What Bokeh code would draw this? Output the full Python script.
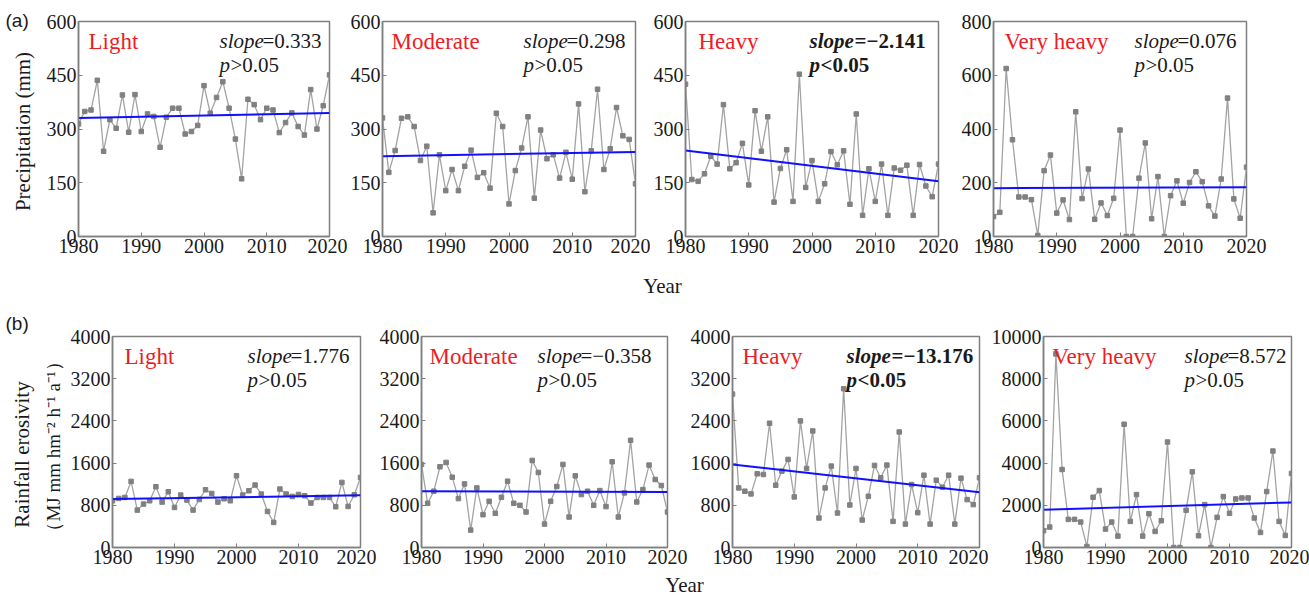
import math
from bokeh.plotting import figure
from bokeh.models import Range1d, Label, FixedTicker
from bokeh.layouts import column, row
from bokeh.embed import file_html
from bokeh.resources import INLINE

years = list(range(1980, 2021))
categories = ["Light", "Moderate", "Heavy", "Very heavy"]

# (a) Precipitation (mm)
precip_light = [314, 349, 353, 436, 238, 326, 302, 395, 291, 396, 293, 342, 335, 249, 333, 358, 358, 286, 293, 310,
                421, 344, 388, 432, 358, 272, 161, 383, 368, 326, 358, 353, 290, 318, 345, 307, 283, 410, 300, 365, 451]
precip_moderate = [331, 179, 240, 330, 334, 307, 212, 252, 66, 228, 128, 187, 128, 196, 241, 165, 178, 135, 344, 307,
                   91, 184, 247, 334, 107, 297, 217, 228, 163, 235, 160, 370, 125, 239, 411, 187, 245, 360, 281, 271, 147]
precip_heavy = [425, 159, 154, 175, 224, 202, 368, 189, 206, 260, 144, 351, 238, 334, 96, 190, 242, 98, 453, 137,
                212, 98, 147, 237, 200, 239, 90, 342, 59, 189, 98, 202, 59, 191, 185, 199, 59, 201, 141, 111, 202]
precip_veryheavy = [74, 90, 625, 360, 147, 147, 137, 4, 245, 303, 87, 136, 63, 464, 141, 251, 64, 125, 78, 142,
                    396, 0, 0, 217, 348, 66, 223, 0, 152, 207, 124, 201, 241, 204, 114, 76, 214, 515, 140, 68, 258]

# (b) Rainfall erosivity (MJ mm hm-2 h-1 a-1)
eros_light = [886, 930, 949, 1253, 709, 823, 886, 1152, 861, 1057, 759, 994, 899, 709, 911, 1095, 1025, 861, 924, 886,
              1361, 994, 1076, 1184, 1013, 684, 475, 1108, 1013, 968, 1006, 981, 842, 949, 949, 949, 772, 1234, 778, 1000, 1329]
eros_moderate = [1575, 838, 1067, 1530, 1613, 1333, 927, 1206, 330, 1130, 622, 876, 648, 952, 1257, 838, 800, 673, 1651, 1422,
                 444, 876, 1156, 1575, 578, 1359, 1003, 1067, 800, 1079, 775, 1625, 578, 1035, 2032, 863, 1098, 1562, 1289, 1175, 673]
eros_heavy = [2908, 1130, 1067, 1016, 1397, 1384, 2356, 1181, 1448, 1670, 959, 2400, 1498, 2210, 559, 1130, 1543, 654, 3010, 806,
              1498, 521, 971, 1556, 1321, 1562, 495, 2190, 444, 1194, 660, 1371, 444, 1276, 1143, 1371, 444, 1314, 908, 813, 1321]
eros_veryheavy = [794, 968, 9175, 3698, 1333, 1333, 1206, 48, 2381, 2698, 873, 1206, 540, 5841, 1238, 2508, 540, 1603, 762, 1270,
                  5000, 0, 0, 1762, 3587, 556, 2032, 0, 1429, 2413, 1619, 2302, 2349, 2349, 1397, 714, 2651, 4571, 1238, 571, 3508]

# trends: slope per year and fitted value at 1980
slopes_precip = [0.333, 0.298, -2.141, 0.076]
trend1980_precip = [331, 224, 240, 180]
slopes_eros = [1.776, -0.358, -13.176, 8.572]
trend1980_eros = [918, 1067, 1575, 1794]
significant_precip = [False, False, True, False]
significant_eros = [False, False, True, False]

precip_ticks = [[0, 150, 300, 450, 600]] * 3 + [[0, 200, 400, 600, 800]]
eros_ticks = [[0, 800, 1600, 2400, 3200, 4000]] * 3 + [[0, 2000, 4000, 6000, 8000, 10000]]
year_ticks = [1980, 1990, 2000, 2010, 2020]

SERIF = "Liberation Serif"
SANS = "Liberation Sans"
GRAY = "#7f7f7f"
TXT = "#1a1a1a"


def lbl(p, x, y, text, size, style="normal", color=TXT, align="left", font=SERIF, angle=0.0, units="screen"):
    p.add_layout(Label(x=x, y=y, x_units=units, y_units=units, text=text,
                       text_font=font, text_font_size=size, text_font_style=style,
                       text_color=color, text_align=align, text_baseline="middle", angle=angle))


def panel(values, ymax, yticks, slope, b0, name, sig, fw, fh, bl, br, bt, bb, name_dx, slope_dx):
    p = figure(frame_width=fw, frame_height=fh, x_range=Range1d(1980, 2020), y_range=Range1d(0, ymax),
               output_backend="svg", toolbar_location=None,
               min_border_left=bl, min_border_right=br, min_border_top=bt, min_border_bottom=bb)
    p.grid.visible = False
    p.outline_line_color = GRAY
    p.outline_line_width = 1.5
    p.background_fill_color = "white"
    p.border_fill_color = "white"
    for ax in (p.xaxis[0], p.yaxis[0]):
        ax.axis_line_color = GRAY
        ax.axis_line_width = 1.5
        ax.major_tick_line_color = GRAY
        ax.major_tick_in = 4
        ax.major_tick_out = 0
        ax.minor_tick_line_color = None
        ax.major_label_text_font = SERIF
        ax.major_label_text_font_size = "20px"
        ax.major_label_text_color = TXT
        ax.major_label_standoff = 2
    p.xaxis.ticker = FixedTicker(ticks=year_ticks)
    p.yaxis.ticker = FixedTicker(ticks=yticks)

    p.line(years, values, line_color="#a3a3a3", line_width=1.3)
    p.scatter(years, values, marker="square", size=4.5, fill_color="#808080", line_color="#808080")
    p.line([1980, 2020], [b0, b0 + slope * 40], line_color="#1010ff", line_width=2)

    lbl(p, name_dx, fh - 20, name, "23px", color="#ee1c25")
    s_style = "bold italic" if sig else "italic"
    n_style = "bold" if sig else "normal"
    s_txt = "=" + (f"{slope:.3f}".replace("-", "\u2212"))
    p_txt = "<0.05" if sig else ">0.05"
    lbl(p, slope_dx, fh - 19, "slope", "21px", style=s_style)
    lbl(p, slope_dx + (45 if sig else 43), fh - 19, s_txt, "21px", style=n_style)
    lbl(p, slope_dx, fh - 43, "p", "21px", style=s_style)
    lbl(p, slope_dx + 11, fh - 43, p_txt, "21px", style=n_style)
    return p


def blank(w, h):
    f = figure(frame_width=w, frame_height=h, x_range=Range1d(0, w), y_range=Range1d(0, h),
               x_axis_type=None, y_axis_type=None, toolbar_location=None, output_backend="svg",
               min_border_left=0, min_border_right=0, min_border_top=0, min_border_bottom=0)
    f.grid.visible = False
    f.outline_line_color = None
    f.background_fill_color = "white"
    f.border_fill_color = "white"
    return f


# row (a) geometry
fa = [251, 253, 253, 253]
bla = [33, 34, 32, 34]
bra = [18, 15, 20, 61]
name_dx_a = [10, 9, 13, 11]
slope_dx_a = [141, 141, 124, 141]
row_a = []
for i in range(4):
    ymax = precip_ticks[i][-1]
    row_a.append(panel([precip_light, precip_moderate, precip_heavy, precip_veryheavy][i], ymax, precip_ticks[i],
                       slopes_precip[i], trend1980_precip[i], categories[i], significant_precip[i],
                       fa[i], 215, bla[i], bra[i], 21, 32, name_dx_a[i], slope_dx_a[i]))
side_a = blank(43, 268)
lbl(side_a, 5, 248, "(a)", "19px", font=SANS, units="data")
lbl(side_a, 22, 137, "Precipitation (mm)", "21px", align="center", angle=math.pi / 2, units="data")

# row (b) geometry
fb = [248, 246, 247, 248]
blb = [43, 43, 43, 52]
brb = [16, 20, 9, 18]
name_dx_b = [12, 8, 10, 9]
slope_dx_b = [135, 116, 114, 141]
row_b = []
for i in range(4):
    ymax = eros_ticks[i][-1]
    row_b.append(panel([eros_light, eros_moderate, eros_heavy, eros_veryheavy][i], ymax, eros_ticks[i],
                       slopes_eros[i], trend1980_eros[i], categories[i], significant_eros[i],
                       fb[i], 211, blb[i], brb[i], 38, 24, name_dx_b[i], slope_dx_b[i]))
side_b = blank(67, 273)
lbl(side_b, 5, 248, "(b)", "19px", font=SANS, units="data")
lbl(side_b, 21, 117, "Rainfall erosivity", "21px", align="center", angle=math.pi / 2, units="data")
lbl(side_b, 53, 125, "\uff08MJ mm hm\u207b\u00b2 h\u207b\u00b9 a\u207b\u00b9\uff09", "19px", align="center",
    angle=math.pi / 2, units="data")


def strip(h, x, y):
    f = blank(1300, h)
    lbl(f, x, y, "Year", "21px", align="center", units="data")
    return f


strip_a = strip(30, 662, 13)
strip_b = strip(25, 684, 12)

layout = column(row(column(side_a), row(*row_a)), strip_a, row(column(side_b), row(*row_b)), strip_b)
open("out.html", "w").write(file_html(layout, INLINE))
